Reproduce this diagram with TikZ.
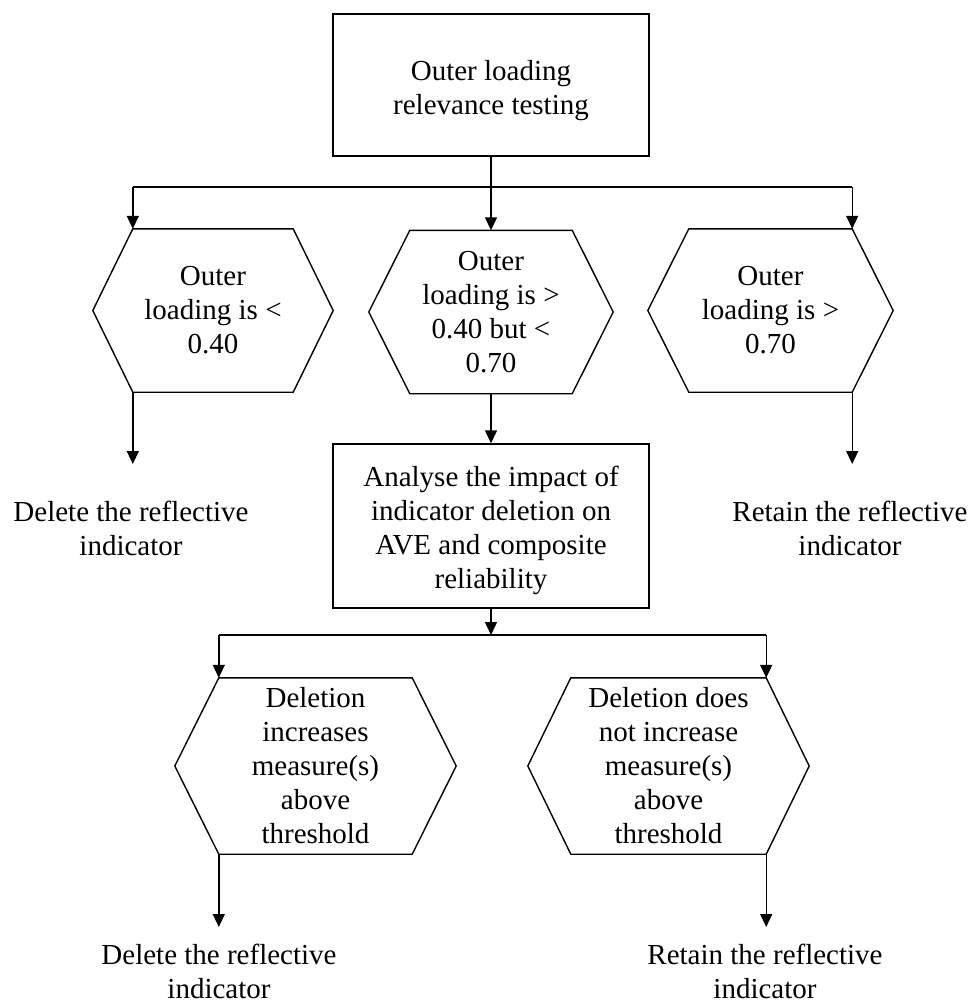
\documentclass[tikz,border=0pt]{standalone}
\usepackage{fontspec}
\setmainfont{Liberation Serif}
\usetikzlibrary{arrows.meta,calc}
\newcommand{\hexdraw}[2]{\draw[ln] ([xshift=#2]#1.north west) -- ([xshift=-#2]#1.north east) -- (#1.east) -- ([xshift=-#2]#1.south east) -- ([xshift=#2]#1.south west) -- (#1.west) -- cycle;}
\tikzset{
  txt/.style={align=center, font=\fontsize{29}{34}\selectfont, inner sep=0pt},
  boxnode/.style={draw, line width=1.4pt, minimum width=316pt, inner sep=0pt},
  hexnode/.style={txt, minimum width=#1},
  ln/.style={line width=1.4pt},
  arr/.style={line width=1.4pt, -{Triangle[width=12pt,length=13pt]}}
}
\begin{document}
\begin{tikzpicture}[x=1pt,y=-1pt]
\useasboundingbox (0,0) rectangle (971,1007);
% nodes
\node[boxnode, minimum height=142pt, label={[txt, yshift=-6pt]center:Outer loading\\relevance testing}] (top) at (491,85) {};
\node[hexnode=240pt, minimum height=163pt] (h1) at (213,310.5) {Outer\\loading is <\\0.40};
\node[hexnode=244pt, minimum height=163pt] (h2) at (491,312) {Outer\\loading is >\\0.40 but <\\0.70};
\node[hexnode=245pt, minimum height=163pt] (h3) at (770.5,310.5) {Outer\\loading is >\\0.70};
\node[boxnode, minimum height=164pt, label={[txt, yshift=-4pt]center:Analyse the impact of\\indicator deletion on\\AVE and composite\\reliability}] (ana) at (491,526) {};
\node[hexnode=281pt, minimum height=176pt] (h4) at (315.5,766) {Deletion\\increases\\measure(s)\\above\\threshold};
\node[hexnode=281pt, minimum height=176pt] (h5) at (668.5,766) {Deletion does\\not increase\\measure(s)\\above\\threshold};
\node[txt] (t1) at (131,528.5) {Delete the reflective\\indicator};
\node[txt] (t2) at (850,528.5) {Retain the reflective\\indicator};
\node[txt] (t3) at (219,971) {Delete the reflective\\indicator};
\node[txt] (t4) at (765,971) {Retain the reflective\\indicator};
% hexagon outlines
\hexdraw{h1}{40pt}
\hexdraw{h2}{41pt}
\hexdraw{h3}{41pt}
\hexdraw{h4}{44pt}
\hexdraw{h5}{43pt}
% corner and junction coordinates
\coordinate (h1tl) at ([xshift=40pt]h1.north west);
\coordinate (h1bl) at ([xshift=40pt]h1.south west);
\coordinate (h3tr) at ([xshift=-41pt]h3.north east);
\coordinate (h3br) at ([xshift=-41pt]h3.south east);
\coordinate (h4tl) at ([xshift=44pt]h4.north west);
\coordinate (h4bl) at ([xshift=44pt]h4.south west);
\coordinate (h5tr) at ([xshift=-43pt]h5.north east);
\coordinate (h5br) at ([xshift=-43pt]h5.south east);
\coordinate (j1) at (491,187);
\coordinate (j2) at (491,635);
\coordinate (e1) at (0,464);
\coordinate (e2) at (0,927);
% connectors
\draw[arr] (top.south) -- (h2.north);
\draw[ln] (h1tl |- j1) -- (h3tr |- j1);
\draw[arr] (h1tl |- j1) -- (h1tl);
\draw[arr] (h3tr |- j1) -- (h3tr);
\draw[arr] (h1bl) -- (h1bl |- e1);
\draw[arr] (h2.south) -- (ana.north);
\draw[arr] (h3br) -- (h3br |- e1);
\draw[arr] (ana.south) -- (j2);
\draw[ln] (h4tl |- j2) -- (h5tr |- j2);
\draw[arr] (h4tl |- j2) -- (h4tl);
\draw[arr] (h5tr |- j2) -- (h5tr);
\draw[arr] (h4bl) -- (h4bl |- e2);
\draw[arr] (h5br) -- (h5br |- e2);
\end{tikzpicture}
\end{document}
